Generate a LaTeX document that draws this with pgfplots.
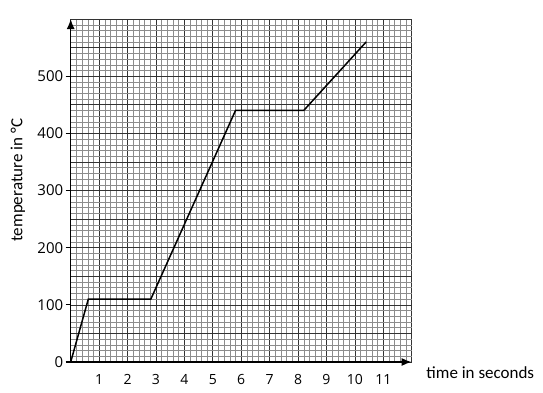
\documentclass[border=0pt]{standalone}
\usepackage{fontspec}
\setmainfont{Carlito}
\newfontfamily\tickfont{Open Sans}
\usepackage{pgfplots}
\pgfplotsset{compat=1.18}
\usetikzlibrary{arrows.meta}
\begin{document}
\begin{tikzpicture}
\useasboundingbox (-70.7pt,-31pt) rectangle (472.3pt,362pt);
\begin{axis}[
  at={(0pt,0pt)}, anchor=south west,
  scale only axis, width=341pt, height=343pt,
  xmin=0, xmax=12, ymin=0, ymax=600,
  axis lines=left,
  axis line style={line width=1.5pt, -{Latex[length=10pt,width=8pt]}},
  xtick={0,...,12},
  xticklabels={,1,2,3,4,5,6,7,8,9,10,11,},
  ytick={0,50,...,600},
  yticklabels={},
  extra y ticks={0,100,...,500},
  extra y tick style={grid=none, ytick style={draw=black, line width=1.2pt}},
  minor x tick num=4,
  minor y tick num=4,
  grid=both,
  major grid style={black!80, line width=0.6pt},
  minor grid style={black!45, line width=0.4pt},
  xtick style={draw=none},
  ytick style={draw=none},
  minor tick style={draw=none},
  major tick length=5pt,
  tick align=outside,
  /pgf/number format/assume math mode=true,
  yticklabel style={font=\fontsize{15}{15}\tickfont, xshift=1pt},
  xticklabel style={font=\fontsize{14}{14}\tickfont, yshift=-4pt},
  xlabel={time in seconds},
  xlabel style={at={(axis description cs:1.033,-0.03)}, anchor=west, font=\fontsize{17}{17}\selectfont},
  ylabel={temperature in °C},
  ylabel style={at={(axis description cs:-0.155,0.53)}, anchor=center, font=\fontsize{17}{17}\selectfont},
]
\addplot[black, line width=1.5pt] coordinates {(0,0) (0.62,110) (2.82,110) (5.8,440) (8.2,440) (10.4,560)};
\end{axis}
\end{tikzpicture}
\end{document}
